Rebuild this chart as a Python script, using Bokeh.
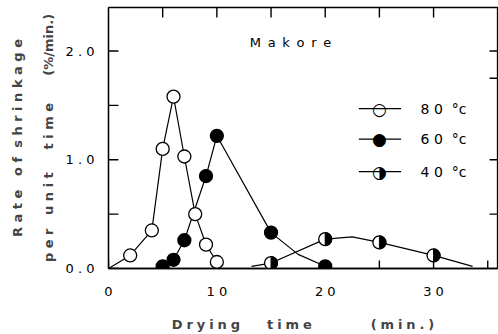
import math
from bokeh.plotting import figure
from bokeh.models import Range1d, FixedTicker, Label, Arrow, Title, CustomJSTickFormatter
from bokeh.embed import file_html
from bokeh.resources import INLINE

# ---- data ----
t80 = [2, 4, 5, 6, 7, 8, 9, 10]
r80 = [0.12, 0.35, 1.10, 1.58, 1.03, 0.50, 0.22, 0.06]
t60 = [5, 6, 7, 9, 10, 15, 20]
r60 = [0.02, 0.08, 0.26, 0.85, 1.22, 0.33, 0.02]
t40 = [15, 20, 25, 30]
r40 = [0.05, 0.27, 0.24, 0.12]

# drawn curves (points plus where the hand-drawn curves begin / end / bend)
curve80_t = [0] + t80
curve80_r = [0.0] + r80
curve60_t = [5, 6, 7, 9, 10, 15, 17.5, 20]
curve60_r = [0.02, 0.08, 0.26, 0.85, 1.22, 0.33, 0.13, 0.02]
curve40_t = [13.2, 15, 20, 22.5, 25, 30, 33.6]
curve40_r = [0.02, 0.05, 0.27, 0.29, 0.24, 0.12, 0.02]

NB = "\u00a0"
TH = "\u2009"
series_labels = ["8" + NB + "0" + NB + NB + "\u00b0c",
                 "6" + NB + "0" + NB + NB + "\u00b0c",
                 "4" + NB + "0" + NB + NB + "\u00b0c"]
x_ticks = [0, 5, 10, 15, 20, 25, 30, 35]
y_ticks = [0, 0.5, 1.0, 1.5, 2.0]
top_ticks = [5, 10, 15, 20, 25, 30]
right_ticks = [0.5, 1.0, 1.75, 2.0]
X0, X1 = 0.0, 35.9
Y0, Y1 = 0.0, 2.4

FONT = "DejaVu Sans"


def letters(w, sep=NB):
    return sep.join(list(w))


def spaced(words, gaps, sep=NB):
    out = letters(words[0], sep)
    for w, g in zip(words[1:], gaps):
        out += NB * g + letters(w, sep)
    return out


p = figure(width=498, height=334, output_backend="svg", toolbar_location=None,
           x_range=Range1d(X0, X1), y_range=Range1d(Y0, Y1),
           min_border_left=104, min_border_right=1, min_border_top=7, min_border_bottom=63)
p.grid.visible = False
p.outline_line_color = "black"
p.outline_line_width = 1.3
p.background_fill_color = "white"
p.border_fill_color = "white"

spread = "return s.split('').join('\\u00a0');"

# bottom axis
xa = p.xaxis[0]
xa.ticker = FixedTicker(ticks=x_ticks)
xa.formatter = CustomJSTickFormatter(
    code="if (tick % 10 !== 0) return ''; const s = String(tick); " + spread)
xa.major_tick_line_color = None
xa.minor_tick_line_color = None
xa.major_tick_out = 0
xa.major_label_standoff = 15
xa.major_label_text_font = FONT
xa.major_label_text_font_size = "13px"
xa.major_label_text_color = "black"
xa.axis_line_width = 1.3
xa.axis_label = spaced(["Drying", "time", "(min.)"], [6, 13], TH + "\u200a")
xa.axis_label_text_font = FONT
xa.axis_label_text_font_size = "13px"
xa.axis_label_text_font_style = "bold"
xa.axis_label_standoff = 15

# left axis
ya = p.yaxis[0]
ya.ticker = FixedTicker(ticks=y_ticks)
ya.formatter = CustomJSTickFormatter(
    code="if (Math.abs(tick - Math.round(tick)) > 1e-6) return ''; const s = tick.toFixed(1); " + spread)
ya.major_tick_line_color = None
ya.minor_tick_line_color = None
ya.major_tick_out = 0
ya.major_label_standoff = 14
ya.major_label_text_font = FONT
ya.major_label_text_font_size = "13px"
ya.major_label_text_color = "black"
ya.axis_line_width = 1.3

# y titles (two lines)
p.add_layout(Title(text=spaced(["per", "unit", "time"], [3, 5]) + NB * 6 + "(%/min.)",
                   align="center", text_font=FONT, text_font_size="13px",
                   text_font_style="bold", standoff=13), "left")
p.add_layout(Title(text=spaced(["Rate", "of", "shrinkage"], [3, 2]), align="center",
                   text_font=FONT, text_font_size="13px", text_font_style="bold",
                   standoff=15), "left")

# inward tick marks: thin screen-sized bars lying just inside the frame edges
TICK_COLOR = "black"
TW = 1.4
px_x = (X1 - X0) / 393.0   # data units per pixel, x
px_y = (Y1 - Y0) / 264.0   # data units per pixel, y
p.rect(x_ticks, [Y0 + 4 * px_y] * len(x_ticks), width=TW, height=8, width_units="screen",
       height_units="screen", fill_color=TICK_COLOR, line_color=None)
p.rect(top_ticks, [Y1 - 5 * px_y] * len(top_ticks), width=TW, height=10, width_units="screen",
       height_units="screen", fill_color=TICK_COLOR, line_color=None)
p.rect([X0 + 5 * px_x] * len(y_ticks), y_ticks, width=10, height=TW, width_units="screen",
       height_units="screen", fill_color=TICK_COLOR, line_color=None)
p.rect([X1 - 4 * px_x] * len(right_ticks), right_ticks, width=8, height=TW, width_units="screen",
       height_units="screen", fill_color=TICK_COLOR, line_color=None)

# curves
lw = 1.2
p.line(curve80_t, curve80_r, line_color="black", line_width=lw)
p.line(curve60_t, curve60_r, line_color="black", line_width=lw)
p.line(curve40_t, curve40_r, line_color="black", line_width=lw)

SZ = 13
p.scatter(t80, r80, marker="circle", size=SZ, fill_color="white", line_color="black", line_width=1.3)
p.scatter(t60, r60, marker="circle", size=SZ, fill_color="black", line_color="black", line_width=1.3)
p.scatter(t40, r40, marker="circle", size=SZ, fill_color="white", line_color="black", line_width=1.3)
p.wedge(t40, r40, radius=SZ / 2, radius_units="screen", start_angle=-math.pi / 2,
        end_angle=math.pi / 2, fill_color="black", line_color="black", line_width=1.0)

# species label
p.add_layout(Label(x=16.8, y=2.08, text=letters("Makore", NB + TH), text_align="center",
                   text_baseline="middle", text_font=FONT, text_font_size="13px",
                   text_color="black"))

# legend (annotations)
leg_y = [1.47, 1.19, 0.89]
symbols = ["\u25cb", "\u25cf", "\u25d1"]
for yy, sym, lab in zip(leg_y, symbols, series_labels):
    p.add_layout(Arrow(end=None, x_start=23.1, y_start=yy, x_end=27.0, y_end=yy,
                       line_color="black", line_width=lw))
    p.add_layout(Label(x=25.0, y=yy, text=sym, text_align="center", text_baseline="middle",
                       text_font=FONT, text_font_size="17px", text_color="black"))
    p.add_layout(Label(x=28.8, y=yy, text=lab, text_align="left", text_baseline="middle",
                       text_font=FONT, text_font_size="14px", text_color="black"))

open("out.html", "w").write(file_html(p, INLINE))
